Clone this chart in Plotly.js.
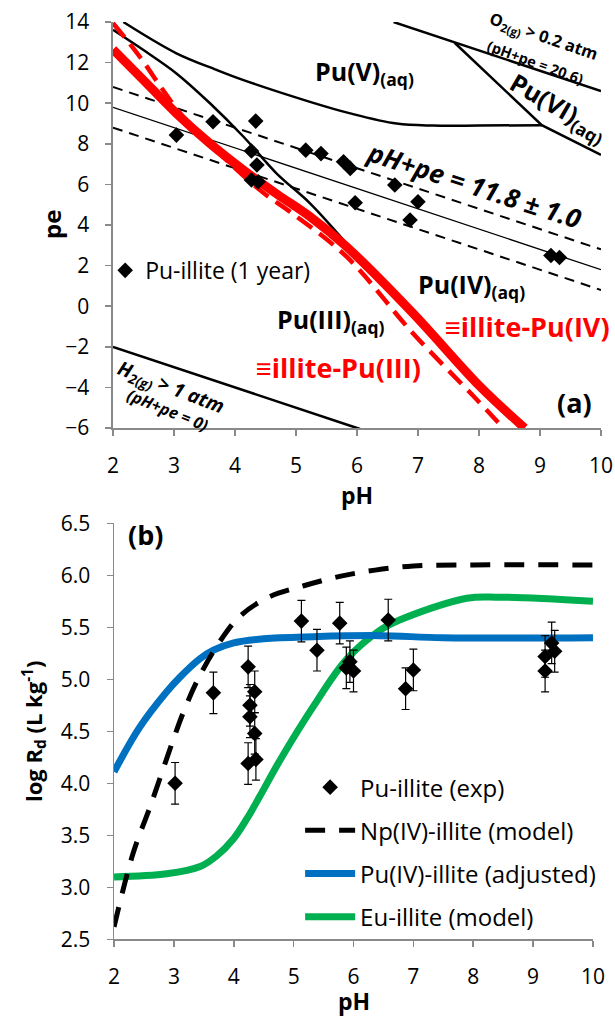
<!DOCTYPE html>
<html>
<head>
<meta charset="utf-8">
<script src="https://cdn.plot.ly/plotly-3.0.1.min.js"></script>
<style>html,body{margin:0;padding:0;background:#fff;}#chart{width:615px;height:1016px;}</style>
</head>
<body>
<div id="chart"></div>
<script>
// ---------- Panel (a): pe-pH diagram ----------
const expPH_a = [3.04, 3.64, 4.34, 4.27, 4.36, 4.27, 4.38, 5.16, 5.41, 5.78, 5.89, 5.97, 6.62, 6.87, 7.0, 9.18, 9.32];
const expPE_a = [8.43, 9.09, 9.12, 7.65, 6.96, 6.22, 6.13, 7.69, 7.52, 7.12, 6.79, 5.1, 5.97, 4.25, 5.15, 2.5, 2.4];

const h2PH = [2, 6.05];            const h2PE = [-2, -6.05];
const o2PH = [6.6, 10];            const o2PE = [14, 10.6];
const pu56PH = [7.6, 9.03, 10];    const pu56PE = [12.98, 8.92, 7.45];
const pu54PH = [2.17, 3.04, 3.7, 4.14, 5.23, 5.89, 6.65, 7.25, 8.0, 9.03];
const pu54PE = [14, 12.46, 11.64, 11.14, 10.07, 9.5, 9.0, 8.9, 8.9, 8.92];
const pu43PH = [2, 2.5, 3.04, 3.59, 4.14, 4.68, 5.23, 5.83, 6.1];
const pu43PE = [13.62, 12.62, 11.47, 10.0, 8.35, 6.55, 5.07, 3.1, 2.2];
const redoxPH = [2, 10];
const redoxMid = [9.8, 1.8];
const redoxHi = [10.8, 2.8];
const redoxLo = [8.8, 0.8];
const illPu4PH = [2, 2.5, 3.04, 3.59, 4.14, 4.7, 5.23, 5.83, 6.92, 8.02, 8.75];
const illPu4PE = [12.65, 11.14, 9.5, 8.02, 6.71, 5.5, 4.41, 2.93, -0.35, -3.96, -6];
const illPu3PH = [2, 2.44, 2.82, 3.15, 4.41, 4.9, 5.83, 6.92, 7.92, 8.4];
const illPu3PE = [13.95, 12.29, 10.65, 9.34, 5.72, 4.66, 2.44, -1.34, -4.46, -6];

// ---------- Panel (b): log Rd vs pH ----------
const expPH_b = [3.02, 3.66, 4.24, 4.35, 4.27, 4.27, 4.35, 4.24, 4.37, 5.13, 5.39, 5.77, 5.94, 5.88, 6.0, 6.58, 6.87, 7.0, 9.2, 9.31, 9.36, 9.2];
const expRd_b = [4.0, 4.87, 5.12, 4.88, 4.75, 4.64, 4.48, 4.19, 4.23, 5.56, 5.28, 5.54, 5.17, 5.11, 5.08, 5.57, 4.91, 5.09, 5.08, 5.35, 5.27, 5.22];
const expErr_b = [0.2, 0.2, 0.2, 0.2, 0.2, 0.2, 0.2, 0.2, 0.2, 0.2, 0.2, 0.2, 0.2, 0.2, 0.2, 0.2, 0.2, 0.2, 0.2, 0.2, 0.2, 0.2];
const npPH = [2, 2.32, 2.6, 2.99, 3.17, 3.41, 3.74, 4.09, 4.58, 5.17, 5.77, 6.36, 7.0, 8.0, 10];
const npRd = [2.62, 3.33, 3.77, 4.42, 4.7, 5.01, 5.34, 5.6, 5.79, 5.9, 5.99, 6.05, 6.09, 6.1, 6.1];
const puPH = [2, 2.43, 2.88, 3.1, 3.44, 3.66, 4.0, 4.5, 5.33, 6.44, 7.5, 10];
const puRd = [4.11, 4.54, 4.88, 5.02, 5.2, 5.28, 5.35, 5.39, 5.41, 5.42, 5.4, 5.4];
const euPH = [2, 2.88, 3.44, 3.71, 4.0, 4.22, 4.44, 4.77, 5.33, 5.88, 6.44, 6.77, 7.89, 8.44, 10];
const euRd = [3.1, 3.13, 3.2, 3.3, 3.47, 3.66, 3.88, 4.22, 4.74, 5.19, 5.47, 5.57, 5.78, 5.79, 5.75];

const xTicks = [2, 3, 4, 5, 6, 7, 8, 9, 10];

const F = '"Open Sans", sans-serif';
function ln(x, y, color, width, dash, shape) {
  return {x: x, y: y, type: 'scatter', mode: 'lines', showlegend: false, hoverinfo: 'skip',
    xaxis: 'x', yaxis: 'y',
    line: {color: color, width: width, dash: dash || 'solid', shape: shape || 'linear'}};
}

const traces = [
  ln(h2PH, h2PE, '#000', 2.5),
  ln(o2PH, o2PE, '#000', 2.5),
  ln(pu56PH, pu56PE, '#000', 2.5),
  ln(pu54PH, pu54PE, '#000', 2.5, 'solid', 'spline'),
  ln(pu43PH, pu43PE, '#000', 2.5, 'solid', 'spline'),
  ln(redoxPH, redoxMid, '#000', 1.3),
  ln(redoxPH, redoxHi, '#000', 2, '10px,7px'),
  ln(redoxPH, redoxLo, '#000', 2, '10px,7px'),
  ln(illPu3PH, illPu3PE, '#ff0000', 4.5, '18px,9px', 'spline'),
  ln(illPu4PH, illPu4PE, '#ff0000', 9, 'solid', 'spline'),
  {x: expPH_a, y: expPE_a, type: 'scatter', mode: 'markers', name: 'Pu-illite (1 year)',
   legend: 'legend2', marker: {symbol: 'diamond', size: 12, color: '#000'}, xaxis: 'x', yaxis: 'y'},

  // panel b
  {x: euPH, y: euRd, type: 'scatter', mode: 'lines', name: 'Eu-illite (model)', legendrank: 4, legendgroup: 'g4',
   line: {color: '#00b050', width: 7, shape: 'spline'}, xaxis: 'x2', yaxis: 'y2'},
  {x: puPH, y: puRd, type: 'scatter', mode: 'lines', name: 'Pu(IV)-illite (adjusted)', legendrank: 3, legendgroup: 'g3',
   line: {color: '#0070c0', width: 7, shape: 'spline'}, xaxis: 'x2', yaxis: 'y2'},
  {x: npPH, y: npRd, type: 'scatter', mode: 'lines', name: 'Np(IV)-illite (model)', legendrank: 2, legendgroup: 'g2',
   line: {color: '#000', width: 5, dash: '20px,14px', shape: 'spline'}, xaxis: 'x2', yaxis: 'y2'},
  {x: expPH_b, y: expRd_b, type: 'scatter', mode: 'markers', name: 'Pu-illite (exp)', legendrank: 1, legendgroup: 'g1',
   marker: {symbol: 'diamond', size: 12, color: '#000'},
   error_y: {type: 'data', array: expErr_b, visible: true, color: '#000', thickness: 1.2, width: 4},
   xaxis: 'x2', yaxis: 'y2'}
];

const axBase = {showline: true, linecolor: '#898989', linewidth: 1.5, ticks: 'outside', ticklen: 6,
  tickcolor: '#898989', tickwidth: 1.5, showgrid: false, zeroline: false, tickfont: {size: 21, family: F},
  automargin: false, ticklabelstandoff: 12};

function A(o) { return Object.assign({}, axBase, o); }

const ann = [];
function note(x, y, text, size, color, angle, xa, ya) {
  ann.push({x: x, y: y, xref: xa || 'x', yref: ya || 'y', text: text, showarrow: false,
    xanchor: 'center', yanchor: 'middle',
    textangle: angle || 0, font: {size: size, color: color || '#000', family: F}});
}
note(6.13, 11.5, '<b>Pu(V)<sub>(aq)</sub></b>', 25);
note(9.3, 9.8, '<b>Pu(VI)<sub>(aq)</sub></b>', 25, '#000', 30);
note(9.05, 13.3, '<b>O<sub>2(g)</sub> &gt; 0.2 atm</b>', 16.5, '#000', 19);
note(8.93, 12.03, '<b>(pH+pe = 20.6)</b>', 14.5, '#000', 20);
note(7.92, 5.97, '<b><i>pH+pe = 11.8 ± 1.0</i></b>', 26, '#000', 18);
note(7.87, 1.0, '<b>Pu(IV)<sub>(aq)</sub></b>', 25);
note(5.56, -0.7, '<b>Pu(III)<sub>(aq)</sub></b>', 25);
note(8.8, -1.02, '<b>≡illite-Pu(IV)</b>', 27, '#ff0000');
note(5.69, -3.04, '<b>≡illite-Pu(III)</b>', 27, '#ff0000');
note(9.57, -4.72, '<b>(a)</b>', 27);
note(2.95, -3.98, '<b><i>H<sub>2(g)</sub> &gt; 1 atm</i></b>', 19.5, '#000', 21);
note(2.9, -5.11, '<b><i>(pH+pe = 0)</i></b>', 16, '#000', 22);
note(2.53, 6.39, '<b>(b)</b>', 27, '#000', 0, 'x2', 'y2');
// axis titles placed as paper annotations
ann.push({x: 51 / 615, y: 1 - 225 / 1016, xref: 'paper', yref: 'paper', text: '<b>pe</b>', showarrow: false,
  xanchor: 'center', yanchor: 'middle',
  textangle: -90, font: {size: 24, color: '#000', family: F}});
ann.push({x: 353.5 / 615, y: 1 - 1001 / 1016, xref: 'paper', yref: 'paper', text: '<b>pH</b>', showarrow: false,
  xanchor: 'center', yanchor: 'middle', font: {size: 23, color: '#000', family: F}});

const layout = {
  width: 615, height: 1016, margin: {l: 0, r: 0, t: 0, b: 0},
  paper_bgcolor: '#fff', plot_bgcolor: '#fff',
  font: {family: F, size: 20, color: '#000'},
  xaxis: A({domain: [0.1837, 0.9772], range: [2, 10], tickvals: xTicks, anchor: 'y',
    title: {text: '<b>pH</b>', font: {size: 23, family: F}, standoff: 6}}),
  yaxis: A({domain: [0.5787, 0.9783], range: [-6, 14], dtick: 2, tick0: 0, anchor: 'x'}),
  xaxis2: A({domain: [0.1854, 0.9642], range: [2, 10], tickvals: xTicks, anchor: 'y2'}),
  yaxis2: A({domain: [0.0755, 0.4849], range: [2.5, 6.5], dtick: 0.5, tick0: 2.5, tickformat: '.1f', anchor: 'x2',
    title: {text: '<b>log R<sub>d</sub> (L kg<sup>-1</sup>)</b>', font: {size: 22, family: F}, standoff: 12}}),
  legend: {x: 0.488, y: 0.247, xanchor: 'left', yanchor: 'top', bgcolor: 'rgba(0,0,0,0)',
    font: {size: 24, family: F}, itemwidth: 50, tracegroupgap: 9, traceorder: 'grouped'},
  legend2: {x: 0.171, y: 0.755, xanchor: 'left', yanchor: 'top', bgcolor: 'rgba(0,0,0,0)',
    font: {size: 23, family: F}},
  annotations: ann
};

Plotly.newPlot('chart', traces, layout, {staticPlot: true, displayModeBar: false});
</script>
</body>
</html>
